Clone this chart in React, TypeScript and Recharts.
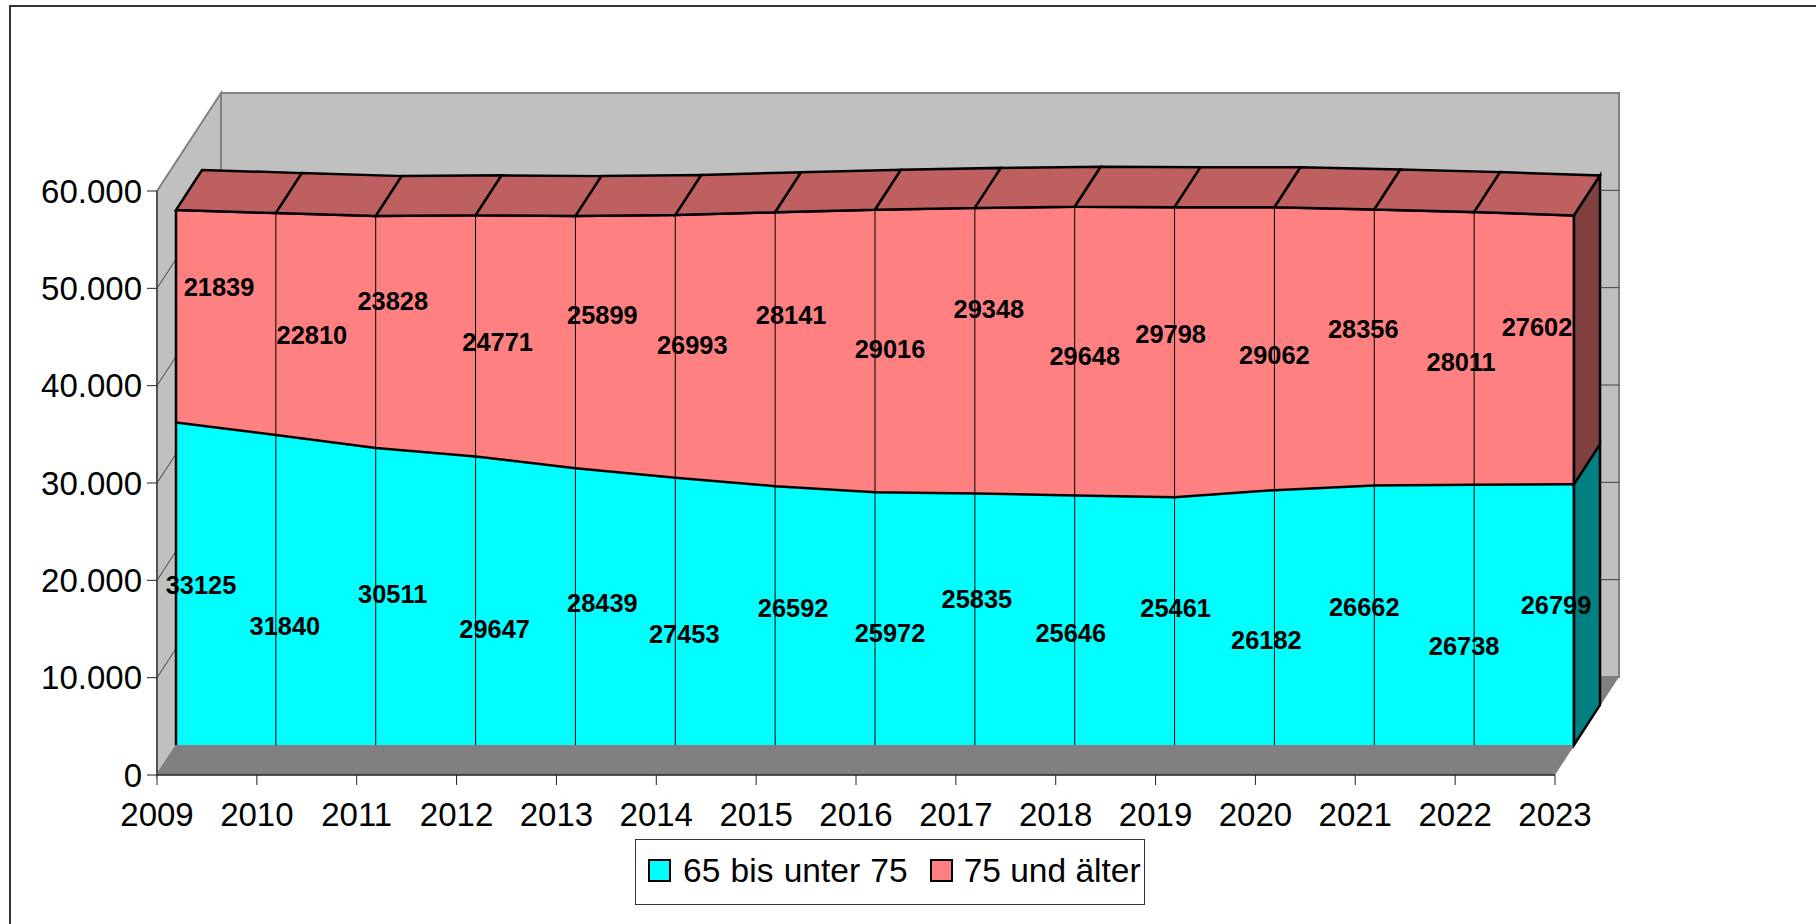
import { AreaChart, Area, XAxis, YAxis, Legend, ReferenceArea, ReferenceLine, LabelList } from 'recharts';

const years = [2009, 2010, 2011, 2012, 2013, 2014, 2015, 2016, 2017, 2018, 2019, 2020, 2021, 2022, 2023];
const age65to75 = [33125, 31840, 30511, 29647, 28439, 27453, 26592, 25972, 25835, 25646, 25461, 26182, 26662, 26738, 26799];
const age75plus = [21839, 22810, 23828, 24771, 25899, 26993, 28141, 29016, 29348, 29648, 29798, 29062, 28356, 28011, 27602];
const yTicks = [0, 10000, 20000, 30000, 40000, 50000, 60000];

const data = years.map((year, i) => ({
  year,
  young: age65to75[i],
  old: age75plus[i],
  total: age65to75[i] + age75plus[i],
}));

// hand placed data labels, the original has them scattered around
const youngLabelDx = [25, 9, 17, 19, 27, 9, 18, 15, 2, -4, 1, -8, -10, -10, -18];
const youngLabelDy = [162, 191, 146, 173, 135, 156, 122, 141, 105, 138, 111, 150, 122, 161, 121];
const oldLabelDx = [43, 36, 17, 22, 27, 17, 16, 15, 14, 10, -4, 0, -11, -13, -37];
const oldLabelDy = [77, 122, 85, 127, 99, 130, 103, 139, 101, 149, 127, 148, 120, 150, 112];

// layout of the fake 3d box
const WIDTH = 1816;
const HEIGHT = 924;
const PLOT_LEFT = 157;
const PLOT_TOP = 92;
const PLOT_RIGHT = 1619;
const PLOT_BOTTOM = 775;
const PLOT_H = PLOT_BOTTOM - PLOT_TOP;
const PX_PER_UNIT = 584 / 60000;
const BACK_LIFT = 98;
const BACK_SHIFT = 64;
const SERIES_LIFT = 30;
const SERIES_SHIFT = 19;
const SERIES_RIGHT = 45;
const DEPTH_X = 26;
const DEPTH_Y = 40;

const domainFor = (lift: number): [number, number] => [-lift / PX_PER_UNIT, (PLOT_H - lift) / PX_PER_UNIT];

const CYAN = '#00FFFF';
const RED = '#FF8080';
const WALL = '#C0C0C0';
const WALL_EDGE = '#808080';
const EDGE_WIDTH = 2.5;
const FONT = '"Liberation Sans", Arial, sans-serif';
const FIRST_YEAR = years[0];
const LAST_YEAR = years[years.length - 1];

const Walls = ({ x, y, width, height }: any) => (
  <g>
    <polygon
      points={`${x - BACK_SHIFT},${y + BACK_LIFT} ${x},${y} ${x},${y + height} ${x - BACK_SHIFT},${y + height + BACK_LIFT}`}
      fill={WALL}
      stroke={WALL_EDGE}
      strokeWidth={2}
    />
    <rect x={x} y={y} width={width} height={height} fill={WALL} stroke={WALL_EDGE} strokeWidth={2} />
    <polygon
      points={`${x - BACK_SHIFT},${y + height + BACK_LIFT} ${x},${y + height} ${x + width},${y + height} ${x + width - BACK_SHIFT},${y + height + BACK_LIFT}`}
      fill={WALL_EDGE}
    />
  </g>
);

const GridLine = ({ x1, y1, x2, y2 }: any) => (
  <g>
    <line x1={x1} y1={y1} x2={x2} y2={y2} stroke="#404040" strokeWidth={1} />
    <line x1={x1} y1={y1} x2={x1 - BACK_SHIFT} y2={y1 + BACK_LIFT} stroke="#404040" strokeWidth={1} />
  </g>
);

const sideFace = (cx: number, cy: number, h: number, fill: string) => (
  <polygon
    points={`${cx},${cy} ${cx + DEPTH_X},${cy - DEPTH_Y} ${cx + DEPTH_X},${cy - DEPTH_Y + h} ${cx},${cy + h}`}
    fill={fill}
    stroke="#000"
    strokeWidth={EDGE_WIDTH}
  />
);

const renderYoungDot = ({ cx, cy, index, payload }: any) => {
  if (index !== years.length - 1) return <g key={index} />;
  return <g key={index}>{sideFace(cx, cy, payload.young * PX_PER_UNIT, '#008080')}</g>;
};

const renderOldDot = ({ cx, cy, index, payload, points }: any) => {
  const next = points?.[index + 1];
  return (
    <g key={index}>
      {next && (
        <polygon
          points={`${cx},${cy} ${next.x},${next.y} ${next.x + DEPTH_X},${next.y - DEPTH_Y} ${cx + DEPTH_X},${cy - DEPTH_Y}`}
          fill="#BF6060"
          stroke="#000"
          strokeWidth={EDGE_WIDTH}
        />
      )}
      {!next && sideFace(cx, cy, payload.old * PX_PER_UNIT, '#804040')}
    </g>
  );
};

const dataLabel = (dxs: number[], dys: number[]) => ({ x, y, index, value }: any) => (
  <text
    x={x + dxs[index]}
    y={y + dys[index]}
    textAnchor="middle"
    dominantBaseline="central"
    fontFamily={FONT}
    fontWeight="bold"
    fontSize={25.4}
    fill="#000"
  >
    {value}
  </text>
);

const ChartLegend = () => (
  <div
    style={{
      display: 'flex',
      alignItems: 'center',
      height: 66,
      boxSizing: 'border-box',
      width: 510,
      border: '1px solid #333',
      background: '#fff',
      fontFamily: FONT,
      fontSize: 33.5,
      color: '#000',
      paddingLeft: 12,
      paddingBottom: 3,
      whiteSpace: 'nowrap',
    }}
  >
    <span style={{ width: 23, height: 23, boxSizing: 'border-box', background: CYAN, border: '2px solid #000', marginRight: 12 }} />
    <span style={{ marginRight: 22, wordSpacing: 1 }}>65 bis unter 75</span>
    <span style={{ width: 23, height: 23, boxSizing: 'border-box', background: RED, border: '2px solid #000', marginRight: 11 }} />
    <span>75 und älter</span>
  </div>
);

export default function App() {
  return (
    <div style={{ position: 'absolute', left: 0, top: 0, width: WIDTH, height: HEIGHT, background: '#fff', overflow: 'hidden' }}>
      <div style={{ position: 'absolute', left: 9, top: 5, width: 1816, height: 1000, border: '2px solid #333' }} />
      <AreaChart
        width={WIDTH}
        height={HEIGHT}
        data={data}
        margin={{ left: PLOT_LEFT - 140, top: PLOT_TOP, right: WIDTH - PLOT_RIGHT, bottom: HEIGHT - PLOT_BOTTOM - 60 }}
        style={{ position: 'absolute', left: 0, top: 0 }}
      >
        <XAxis
          xAxisId="main"
          dataKey="year"
          scale="point"
          height={60}
          padding={{ left: 0, right: BACK_SHIFT }}
          interval={0}
          axisLine={false}
          tickSize={10}
          tickMargin={18}
          stroke="#222"
          tick={{ fill: '#000', fontFamily: FONT, fontSize: 33 }}
        />
        <XAxis xAxisId="series" dataKey="year" scale="point" hide height={0} padding={{ left: SERIES_SHIFT, right: SERIES_RIGHT }} />
        <XAxis xAxisId="back" dataKey="year" scale="point" hide height={0} padding={{ left: BACK_SHIFT, right: 0 }} />
        <YAxis
          yAxisId="main"
          width={140}
          domain={domainFor(0)}
          ticks={yTicks}
          interval={0}
          axisLine={false}
          tickSize={10}
          tickMargin={5}
          stroke="#222"
          tickFormatter={(v: number) => v.toLocaleString('de-DE')}
          tick={{ fill: '#000', fontFamily: FONT, fontSize: 33 }}
        />
        <YAxis yAxisId="series" hide width={0} domain={domainFor(SERIES_LIFT)} />
        <YAxis yAxisId="back" hide width={0} domain={domainFor(BACK_LIFT)} />

        {/* invisible series, an axis without a series gets no scale */}
        <Area xAxisId="main" yAxisId="main" dataKey="total" fill="none" stroke="none" dot={false} activeDot={false} legendType="none" isAnimationActive={false} />
        <Area xAxisId="back" yAxisId="back" dataKey="total" fill="none" stroke="none" dot={false} activeDot={false} legendType="none" isAnimationActive={false} />

        <ReferenceArea xAxisId="back" yAxisId="back" x1={FIRST_YEAR} x2={LAST_YEAR} y1={0} y2={60000} shape={Walls} ifOverflow="visible" zIndex={10} />
        {yTicks.slice(1, -1).map((v) => (
          <ReferenceLine
            key={v}
            xAxisId="back"
            yAxisId="back"
            segment={[{ x: FIRST_YEAR, y: v }, { x: LAST_YEAR, y: v }]}
            shape={GridLine}
            ifOverflow="visible"
            zIndex={20}
          />
        ))}
        <ReferenceLine xAxisId="main" yAxisId="main" segment={[{ x: FIRST_YEAR, y: 0 }, { x: LAST_YEAR, y: 0 }]} stroke="#222" strokeWidth={1.5} ifOverflow="visible" />
        <ReferenceLine xAxisId="main" yAxisId="main" segment={[{ x: FIRST_YEAR, y: 0 }, { x: FIRST_YEAR, y: 60000 }]} stroke="#444" strokeWidth={1.5} ifOverflow="visible" />

        <Area
          xAxisId="series"
          yAxisId="series"
          dataKey="young"
          name="65 bis unter 75"
          stackId="a"
          type="linear"
          fill={CYAN}
          fillOpacity={1}
          stroke="none"
          isAnimationActive={false}
          dot={renderYoungDot}
          activeDot={false}
        >
          <LabelList dataKey="young" content={dataLabel(youngLabelDx, youngLabelDy)} />
        </Area>
        <Area
          xAxisId="series"
          yAxisId="series"
          dataKey="old"
          name="75 und älter"
          stackId="a"
          type="linear"
          fill={RED}
          fillOpacity={1}
          stroke="#000"
          strokeWidth={EDGE_WIDTH}
          isAnimationActive={false}
          dot={renderOldDot}
          activeDot={false}
        >
          <LabelList dataKey="old" content={dataLabel(oldLabelDx, oldLabelDy)} />
        </Area>
        {/* outline between the two bands, the upper fill would cover half of it */}
        <Area
          xAxisId="series"
          yAxisId="series"
          dataKey="young"
          type="linear"
          fill="none"
          stroke="#000"
          strokeWidth={EDGE_WIDTH}
          dot={false}
          activeDot={false}
          legendType="none"
          isAnimationActive={false}
        />

        {data.map((d, i) => (
          <ReferenceLine
            key={d.year}
            xAxisId="series"
            yAxisId="series"
            segment={[{ x: d.year, y: 0 }, { x: d.year, y: d.total }]}
            stroke="#000"
            strokeWidth={i === 0 || i === years.length - 1 ? EDGE_WIDTH : 1}
            ifOverflow="visible"
          />
        ))}

        <Legend
          layout="horizontal"
          verticalAlign="middle"
          align="center"
          content={<ChartLegend />}
          wrapperStyle={{ position: 'absolute', left: 635, top: 839, width: 510, height: 66, bottom: 'auto', right: 'auto' }}
        />
      </AreaChart>
    </div>
  );
}
